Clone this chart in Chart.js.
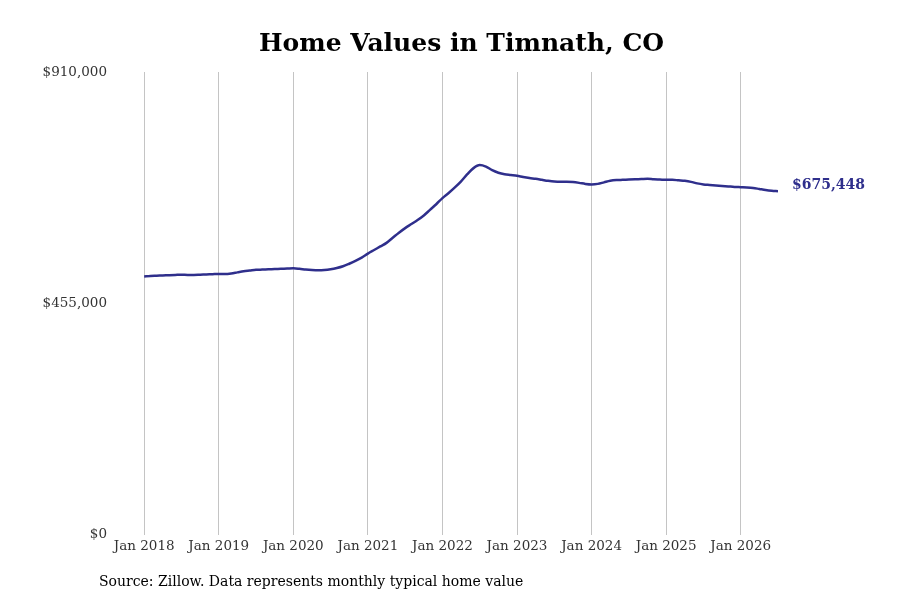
<!DOCTYPE html>
<html>
<head>
<meta charset="utf-8">
<script src="https://cdn.jsdelivr.net/npm/chart.js@4/dist/chart.umd.min.js"></script>
<style>
  html, body { margin: 0; padding: 0; background: #fff; }
  #wrap { width: 900px; height: 600px; position: relative; }
</style>
</head>
<body>
<div id="wrap"><canvas id="chart" width="900" height="600"></canvas></div>
<script>
// Timnath, CO typical home value, monthly from Jan 2018 (month index 0).
const yearLabels = ["Jan 2018", "Jan 2019", "Jan 2020", "Jan 2021", "Jan 2022", "Jan 2023", "Jan 2024", "Jan 2025", "Jan 2026"];
const yTicks = [0, 455000, 910000];

const values2018 = [508000, 509000, 509500, 510000, 510500, 511000, 511500, 511000, 511000, 511500, 512000, 512500];
const values2019 = [513000, 513000, 514000, 516000, 518000, 519500, 521000, 521500, 522000, 522500, 523000, 523500];
const values2020 = [524000, 523000, 521500, 520500, 520000, 520500, 522000, 524500, 528000, 533000, 538500, 545000];
const values2021 = [553000, 560000, 567000, 574000, 584000, 594000, 603000, 611000, 619000, 628000, 639000, 650000];
const values2022 = [662000, 672000, 683000, 695000, 709000, 721000, 727000, 724000, 717000, 712000, 709000, 707500];
const values2023 = [706000, 703500, 701500, 700000, 698000, 696000, 694500, 694000, 694000, 693500, 692000, 690000];
const values2024 = [689000, 690000, 693000, 696000, 697500, 698000, 698500, 699000, 699500, 700000, 699000, 698500];
const values2025 = [698000, 698000, 697000, 696000, 694000, 691000, 689000, 688000, 687000, 686000, 685000, 684000];
const values2026 = [683500, 683000, 682000, 680000, 678000, 676500, 675448];

const homeValues = [].concat(values2018, values2019, values2020, values2021, values2022,
                             values2023, values2024, values2025, values2026);

const points = homeValues.map((v, i) => ({ x: i, y: v }));
const lastPoint = points[points.length - 1];
const lineColor = "#2f2f8c";
const serif = "'DejaVu Serif', serif";

// Title, end-of-line value and the source note.
const annotations = {
  id: "annotations",
  afterDraw(chart) {
    const { ctx, scales } = chart;
    const px = scales.x.getPixelForValue(lastPoint.x);
    const py = scales.y.getPixelForValue(lastPoint.y);
    ctx.save();
    ctx.textBaseline = "middle";
    ctx.fillStyle = "#000";
    ctx.font = "bold 25px " + serif;
    ctx.textAlign = "center";
    ctx.fillText("Home Values in Timnath, CO", 461.5, 44);
    ctx.textAlign = "left";
    ctx.fillStyle = lineColor;
    ctx.font = "bold 14px " + serif;
    ctx.fillText("$" + lastPoint.y.toLocaleString("en-US"), px + 14, py - 6);
    ctx.fillStyle = "#000";
    ctx.font = "14px " + serif;
    ctx.fillText("Source: Zillow. Data represents monthly typical home value", 99, 582);
    ctx.restore();
  }
};

new Chart(document.getElementById("chart"), {
  type: "line",
  data: {
    datasets: [{
      data: points,
      borderColor: lineColor,
      borderWidth: 2.5,
      pointRadius: 0,
      tension: 0.4,
      cubicInterpolationMode: "monotone",
      fill: false
    }]
  },
  options: {
    responsive: false,
    animation: false,
    layout: { padding: { top: 72, right: 122, bottom: 41, left: 0 } },
    plugins: {
      legend: { display: false },
      tooltip: { enabled: false },
      title: { display: false }
    },
    scales: {
      x: {
        type: "linear",
        min: -5.5,
        max: 102,
        afterBuildTicks: s => { s.ticks = yearLabels.map((_, i) => ({ value: i * 12 })); },
        ticks: {
          color: "#333",
          font: { family: serif, size: 13.5 },
          padding: 4,
          maxRotation: 0,
          callback: v => yearLabels[v / 12]
        },
        grid: { color: "#c4c4c4", lineWidth: 1, drawTicks: false },
        border: { display: false }
      },
      y: {
        min: 0,
        max: 910000,
        afterBuildTicks: s => { s.ticks = yTicks.map(v => ({ value: v })); },
        afterFit: s => { s.width = 110; },
        ticks: {
          color: "#333",
          font: { family: serif, size: 13.5 },
          padding: 3,
          callback: v => "$" + v.toLocaleString("en-US")
        },
        grid: { display: false, drawTicks: false },
        border: { display: false }
      }
    }
  },
  plugins: [annotations]
});
</script>
</body>
</html>
